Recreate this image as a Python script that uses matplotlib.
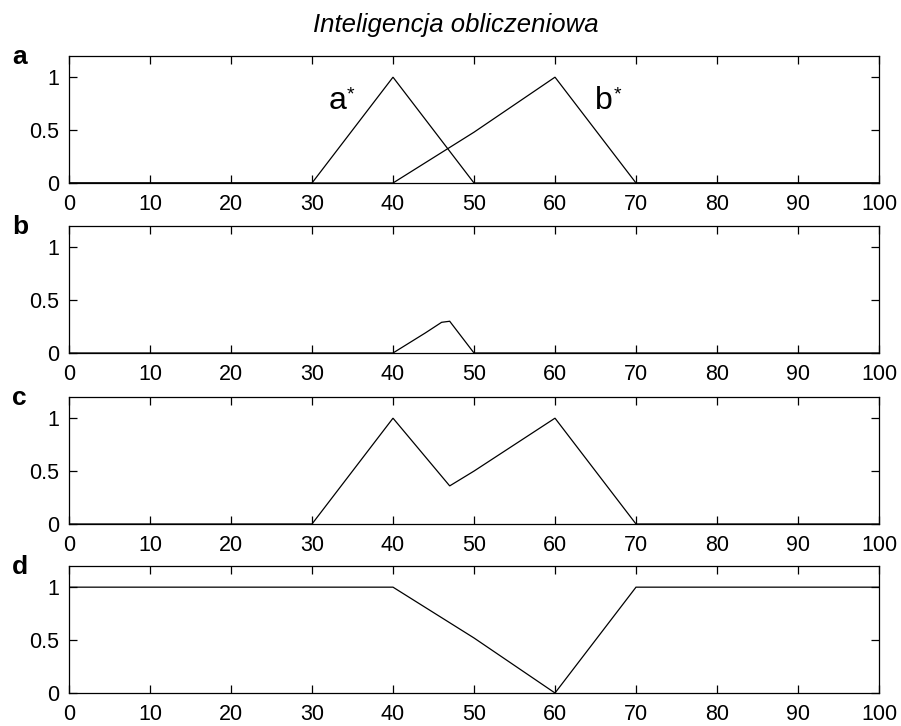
import matplotlib
matplotlib.use("Agg")
import matplotlib.pyplot as plt

plt.rcParams["font.family"] = ["Liberation Sans", "DejaVu Sans"]

# Fuzzy sets on the universe 0..100 (breakpoints and membership values)
a_star_x = [0, 30, 40, 50, 100]
a_star_y = [0, 0, 1, 0, 0]

b_star_x = [0, 40, 50, 60, 70, 100]
b_star_y = [0, 0, 0.48, 1, 0, 0]

# b: intersection (min) of a* and b*
inter_x = [0, 40, 44, 46, 47, 50, 100]
inter_y = [0, 0, 0.19, 0.29, 0.30, 0, 0]

# c: union (max) of a* and b*
union_x = [0, 30, 40, 47, 50, 60, 70, 100]
union_y = [0, 0, 1, 0.36, 0.50, 1, 0, 0]

# d: complement of b*
compl_x = [0, 40, 50, 60, 70, 100]
compl_y = [1, 1, 0.52, 0, 1, 1]

panel_labels = ["a", "b", "c", "d"]
x_ticks = [0, 10, 20, 30, 40, 50, 60, 70, 80, 90, 100]
y_ticks = [0, 0.5, 1]
y_tick_labels = ["0", "0.5", "1"]
title = "Inteligencja obliczeniowa"

W, H = 901, 726
fig = plt.figure(figsize=(W / 100, H / 100), dpi=100)

left, right = 69, 879
tops = [56, 226, 397, 566]
ax_h = 127

panels = [
    [(a_star_x, a_star_y), (b_star_x, b_star_y)],
    [(inter_x, inter_y)],
    [(union_x, union_y)],
    [(compl_x, compl_y)],
]

axes = []
for i, top in enumerate(tops):
    ax = fig.add_axes([left / W, 1 - (top + ax_h) / H, (right - left) / W, ax_h / H])
    for xs, ys in panels[i]:
        ax.plot(xs, ys, color="black", lw=0.9, solid_joinstyle="miter")
    ax.set_xlim(0, 100)
    ax.set_ylim(0, 1.2)
    ax.set_xticks(x_ticks)
    ax.set_xticklabels([str(t) for t in x_ticks])
    ax.set_yticks(y_ticks)
    ax.set_yticklabels(y_tick_labels)
    ax.tick_params(axis="both", direction="in", length=6, width=0.9,
                   top=True, right=True, labelsize=15.5, colors="black")
    ax.tick_params(axis="x", pad=8)
    ax.tick_params(axis="y", pad=7)
    for s in ax.spines.values():
        s.set_linewidth(0.9)
    # panel letter just left of the axes, baseline slightly below the top edge
    fig.text(12 / W, 1 - (top + 8) / H, panel_labels[i], fontsize=19,
             fontweight="bold", ha="left", va="baseline")
    axes.append(ax)

# set names inside the first panel
ax0 = axes[0]
ax0.text(32.0, 0.70, "a", fontsize=23, ha="left", va="baseline")
ax0.text(34.3, 0.91, "*", fontsize=14, ha="left", va="top")
ax0.text(64.9, 0.70, "b", fontsize=23, ha="left", va="baseline")
ax0.text(67.3, 0.91, "*", fontsize=14, ha="left", va="top")

fig.text(456 / W, 1 - 32 / H, title, fontsize=18.5, style="italic",
         ha="center", va="baseline")

fig.savefig("out.png", dpi=100, facecolor="white")
